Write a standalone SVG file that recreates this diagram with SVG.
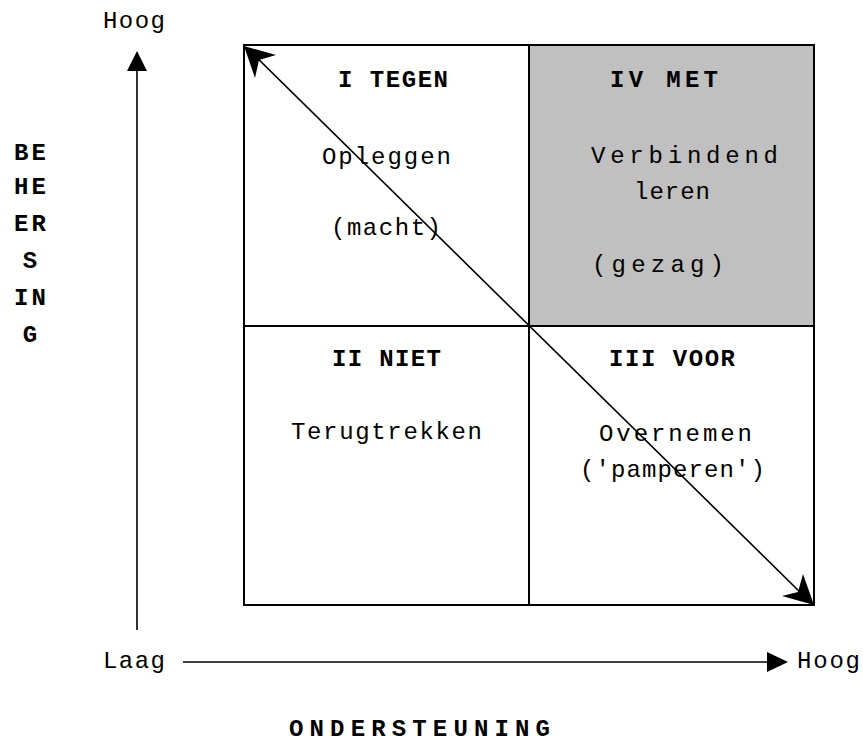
<svg xmlns="http://www.w3.org/2000/svg" width="863" height="742" viewBox="0 0 863 742">
<style>
text{font-family:"Liberation Mono","Courier New",monospace;font-size:24px;fill:#000;text-anchor:middle}
.b{font-weight:bold}
.ln{stroke:#000;stroke-width:2;fill:none}
.ax{stroke:#000;stroke-width:1.6;fill:none}
</style>
<rect x="0" y="0" width="863" height="742" fill="#fff"/>
<g id="quadrant-IV-fill"><rect x="529" y="45" width="285" height="281" fill="#c0c0c0"/></g>
<g id="grid">
<rect class="ln" x="244" y="45" width="570" height="560"/>
<line class="ln" x1="529" y1="45" x2="529" y2="605"/>
<line class="ln" x1="244" y1="326" x2="814" y2="326"/>
</g>
<g id="q1">
<text class="b" x="393" y="87" textLength="110" lengthAdjust="spacing">I TEGEN</text>
<text x="386.5" y="164" textLength="129" lengthAdjust="spacing">Opleggen</text>
<text x="386" y="235" textLength="110" lengthAdjust="spacing">(macht)</text>
</g>
<g id="q4">
<text class="b" x="664" y="87" textLength="108" lengthAdjust="spacing">IV MET</text>
<text x="684.5" y="163" textLength="187" lengthAdjust="spacing">Verbindend</text>
<text x="672" y="199" textLength="76" lengthAdjust="spacing">leren</text>
<text x="658" y="272" textLength="132" lengthAdjust="spacing">(gezag)</text>
</g>
<g id="q2">
<text class="b" x="386.5" y="366" textLength="109" lengthAdjust="spacing">II NIET</text>
<text x="386.5" y="439" textLength="191" lengthAdjust="spacing">Terugtrekken</text>
</g>
<g id="q3">
<text class="b" x="672" y="366" textLength="126" lengthAdjust="spacing">III VOOR</text>
<text x="675.5" y="441" textLength="153" lengthAdjust="spacing">Overnemen</text>
<text x="672.5" y="477" textLength="185" lengthAdjust="spacing">('pamperen')</text>
</g>
<g id="connectors">
<line class="ax" x1="137" y1="630" x2="137" y2="68"/>
<polygon points="137,51 127,71 147,71" fill="#000"/>
<line class="ax" x1="183" y1="662" x2="770" y2="662"/>
<polygon points="788,662 767,652 767,672" fill="#000"/>
<line class="ax" x1="250" y1="51" x2="808" y2="600"/>
<polygon points="244,46 276,55 259,60 255,78" fill="#000"/>
<polygon points="814,605 782,596 798,592 803,574" fill="#000"/>
</g>
<g id="axis-labels">
<text x="134" y="28" textLength="62" lengthAdjust="spacing">Hoog</text>
<text x="134" y="668" textLength="62" lengthAdjust="spacing">Laag</text>
<text x="828.5" y="668" textLength="63" lengthAdjust="spacing">Hoog</text>
<text class="b" x="419.5" y="736" textLength="261" lengthAdjust="spacing">ONDERSTEUNING</text>
<text class="b" x="30" y="160" textLength="32" lengthAdjust="spacing">BE</text>
<text class="b" x="30" y="194" textLength="32" lengthAdjust="spacing">HE</text>
<text class="b" x="30" y="231" textLength="32" lengthAdjust="spacing">ER</text>
<text class="b" x="30" y="268">S</text>
<text class="b" x="30" y="305" textLength="32" lengthAdjust="spacing">IN</text>
<text class="b" x="30" y="342">G</text>
</g>
</svg>
